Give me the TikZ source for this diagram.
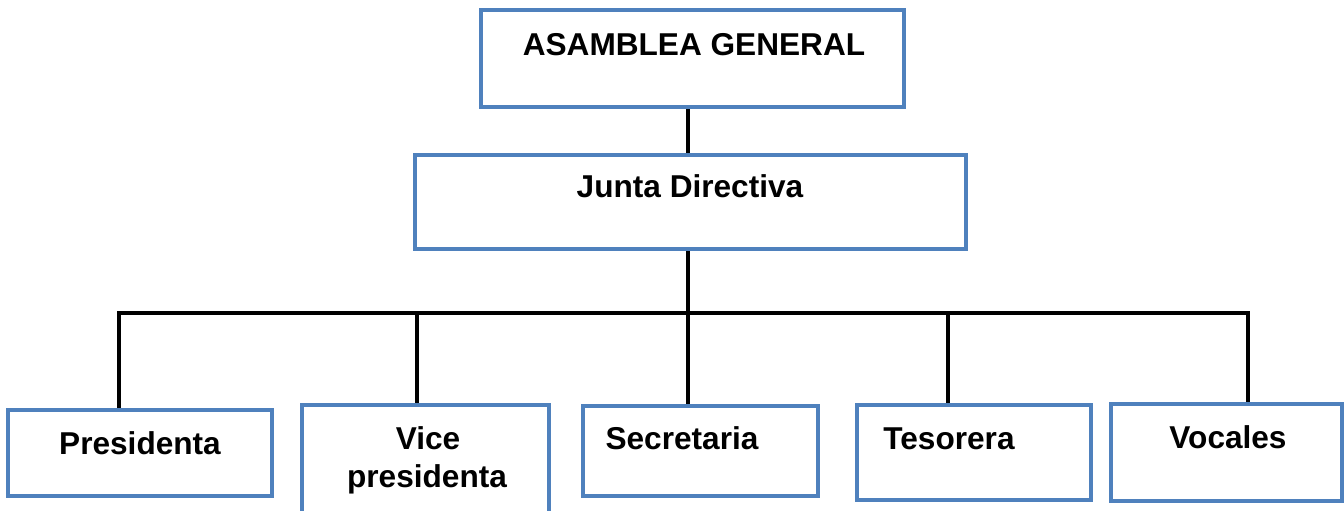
\documentclass[tikz,border=0pt]{standalone}
\usepackage{fontspec}
\setmainfont{Liberation Sans}
\definecolor{azul}{RGB}{79,129,189}

\begin{document}
\begin{tikzpicture}[x=0.5pt,y=-0.5pt,
  caja/.style={draw=azul,line width=2pt,rectangle,inner sep=0pt},
  texto/.style={font=\bfseries\fontsize{15.8}{19}\selectfont,anchor=base,inner sep=0pt},
  linea/.style={line width=2.3pt,black}]

\useasboundingbox (0,0) rectangle (1344,510);

% cajas
\node[caja,minimum width=211.5pt,minimum height=48.5pt] (asamblea) at (692.5,58.5) {};
\node[caja,minimum width=275.5pt,minimum height=47pt] (junta) at (690.5,202) {};
\node[caja,minimum width=132pt,minimum height=43pt] (presidenta) at (140,453) {};
\node[caja,minimum width=123.5pt,minimum height=60pt] (vice) at (425.5,465) {};
\node[caja,minimum width=117.5pt,minimum height=45pt] (secretaria) at (700.5,451) {};
\node[caja,minimum width=117pt,minimum height=47.5pt] (tesorera) at (974,452.5) {};
\node[caja,minimum width=115.5pt,minimum height=48.5pt] (vocales) at (1226.5,452.5) {};

% textos
\node[texto] (t-asamblea) at (694,55) {ASAMBLEA GENERAL};
\node[texto] (t-junta) at (690,197) {Junta Directiva};
\node[texto] (t-presidenta) at (140,454) {Presidenta};
\node[texto] (t-vice) at (428,449) {Vice};
\node[texto] (t-vice2) at (427,487) {presidenta};
\node[texto] (t-secretaria) at (682,449) {Secretaria};
\node[texto] (t-tesorera) at (949,449) {Tesorera};
\node[texto] (t-vocales) at (1228,448) {Vocales};

% lineas
\coordinate (b1) at (119,313);
\coordinate (b2) at (417,313);
\coordinate (b3) at (688,313);
\coordinate (b4) at (948,313);
\coordinate (b5) at (1248,313);

\draw[linea] (asamblea.south -| b3) -- (junta.north -| b3);
\draw[linea] (junta.south -| b3) -- (b3);
\draw[linea] (b1 |- presidenta.north) -- (b1) -- (b5) -- (b5 |- vocales.north);
\draw[linea] (b2) -- (b2 |- vice.north);
\draw[linea] (b3) -- (b3 |- secretaria.north);
\draw[linea] (b4) -- (b4 |- tesorera.north);

\end{tikzpicture}
\end{document}
